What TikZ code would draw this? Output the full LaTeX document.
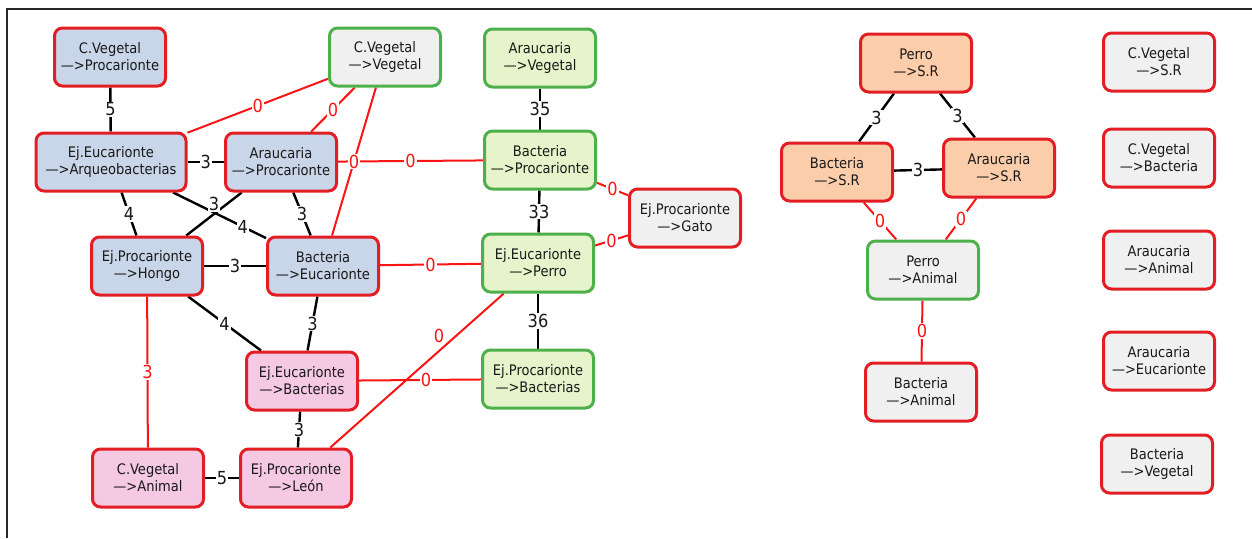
\documentclass[tikz,border=0pt]{standalone}
\usepackage{fontspec}
\setmainfont{DejaVu Sans}
\newfontfamily\boxfont{DejaVu Sans Condensed}
\usetikzlibrary{backgrounds}
\definecolor{bred}{RGB}{226,30,36}
\definecolor{bgreen}{RGB}{78,176,74}
\definecolor{cblue}{RGB}{201,213,232}
\definecolor{cpink}{RGB}{245,200,228}
\definecolor{cgreen}{RGB}{229,244,202}
\definecolor{corange}{RGB}{252,205,170}
\definecolor{cgray}{RGB}{240,240,240}
\definecolor{ered}{RGB}{250,20,20}
\definecolor{tdark}{RGB}{25,25,25}
\begin{document}
\begin{tikzpicture}[x=1pt,y=-1pt,
  box/.style={draw, rounded corners=8pt, line width=3pt, minimum width=111pt, minimum height=58pt,
    inner sep=0pt, align=center, font=\boxfont\fontsize{14.5}{17}\selectfont, text=tdark},
  rb/.style={box, draw=bred},
  gb/.style={box, draw=bgreen},
  blk/.style={line width=2.4pt, black},
  rd/.style={line width=2pt, ered},
  lbl/.style={fill=white, inner sep=1pt, font=\boxfont\fontsize{18}{18}\selectfont, text=tdark},
  rlbl/.style={lbl, text=ered},
  frame/.style={line width=1.3pt, black!85}]
\useasboundingbox (0,0) rectangle (1252,538);
\draw[frame] (1252,9) -- (7,9) -- (7,538);

% left cluster
\node[rb, fill=cblue] (cvproc) at (110,57) {C.Vegetal\\—>Procarionte};
\node[gb, fill=cgray] (cvveg) at (385,57) {C.Vegetal\\—>Vegetal};
\node[rb, fill=cblue, minimum width=150pt] (euarq) at (111,162) {Ej.Eucarionte\\—>Arqueobacterias};
\node[rb, fill=cblue] (arproc) at (281,162) {Araucaria\\—>Procarionte};
\node[rb, fill=cblue] (prhongo) at (147,266) {Ej.Procarionte\\—>Hongo};
\node[rb, fill=cblue] (baeuc) at (323,266) {Bacteria\\—>Eucarionte};
\node[rb, fill=cpink] (eubact) at (302,381) {Ej.Eucarionte\\—>Bacterias};
\node[rb, fill=cpink] (cvanim) at (148,478) {C.Vegetal\\—>Animal};
\node[rb, fill=cpink] (prleon) at (296,478) {Ej.Procarionte\\—>León};
% middle
\node[gb, fill=cgreen] (arveg) at (540,58) {Araucaria\\—>Vegetal};
\node[gb, fill=cgreen] (baproc) at (540,160) {Bacteria\\—>Procarionte};
\node[gb, fill=cgreen] (euperro) at (538,263) {Ej.Eucarionte\\—>Perro};
\node[gb, fill=cgreen] (prbact) at (538,379) {Ej.Procarionte\\—>Bacterias};
\node[rb, fill=cgray] (prgato) at (685,218) {Ej.Procarionte\\—>Gato};
% right cluster
\node[rb, fill=corange] (perrosr) at (916,63) {Perro\\—>S.R};
\node[rb, fill=corange] (basr) at (837,172) {Bacteria\\—>S.R};
\node[rb, fill=corange] (arsr) at (999,168) {Araucaria\\—>S.R};
\node[gb, fill=cgray] (perroan) at (923,270) {Perro\\—>Animal};
\node[rb, fill=cgray] (baan) at (921,392) {Bacteria\\—>Animal};
% isolated column
\node[rb, fill=cgray] (cvsr) at (1159,62) {C.Vegetal\\—>S.R};
\node[rb, fill=cgray] (cvba) at (1159,158) {C.Vegetal\\—>Bacteria};
\node[rb, fill=cgray] (aran) at (1159,260) {Araucaria\\—>Animal};
\node[rb, fill=cgray] (areuc) at (1159,361) {Araucaria\\—>Eucarionte};
\node[rb, fill=cgray] (bave) at (1157,464) {Bacteria\\—>Vegetal};

\begin{scope}[on background layer]
% left cluster edges
\draw[blk] (cvproc) -- node[lbl]{5} (euarq);
\draw[rd] (cvveg) -- node[rlbl]{0} (euarq);
\draw[rd] (cvveg) -- node[rlbl]{0} (arproc);
\draw[rd] (arproc) -- node[rlbl]{0} (baproc);
\draw[rd] (cvveg) -- node[rlbl]{0} (baeuc);
\draw[blk] (euarq) -- node[lbl]{3} (arproc);
\draw[blk] (euarq) -- node[lbl]{4} (prhongo);
\draw[blk] (euarq) -- node[lbl, pos=0.75]{4} (baeuc);
\draw[blk] (arproc) -- node[lbl, yshift=10pt]{3} (prhongo);
\draw[blk] (arproc) -- node[lbl]{3} (baeuc);
\draw[blk] (prhongo) -- node[lbl]{3} (baeuc);
\draw[blk] (prhongo) -- node[lbl]{4} (eubact);
\draw[rd] (prhongo) -- node[rlbl]{3} (cvanim);
\draw[blk] (baeuc) -- node[lbl]{3} (eubact);
\draw[rd] (baeuc) -- node[rlbl]{0} (euperro);
\draw[rd] (eubact) -- node[rlbl, pos=0.55]{0} (prbact);
\draw[rd] (prleon) -- node[rlbl, xshift=22pt, yshift=35pt, fill=none]{0} (euperro);
\draw[blk] (eubact) -- node[lbl]{3} (prleon);
\draw[blk] (cvanim) -- node[lbl]{5} (prleon);
% middle edges
\draw[blk] (arveg) -- node[lbl]{35} (baproc);
\draw[blk] (baproc) -- node[lbl]{33} (euperro);
\draw[blk] (euperro) -- node[lbl]{36} (prbact);
\draw[rd] (baproc) -- node[rlbl]{0} (prgato);
\draw[rd] (euperro) -- node[rlbl]{0} (prgato);
% right cluster edges
\draw[blk] (perrosr) -- node[lbl]{3} (basr);
\draw[blk] (perrosr) -- node[lbl]{3} (arsr);
\draw[blk] (basr) -- node[lbl]{3} (arsr);
\draw[rd] (basr) -- node[rlbl]{0} (perroan);
\draw[rd] (arsr) -- node[rlbl]{0} (perroan);
\draw[rd] (perroan) -- node[rlbl]{0} (baan);
\end{scope}
\end{tikzpicture}
\end{document}
